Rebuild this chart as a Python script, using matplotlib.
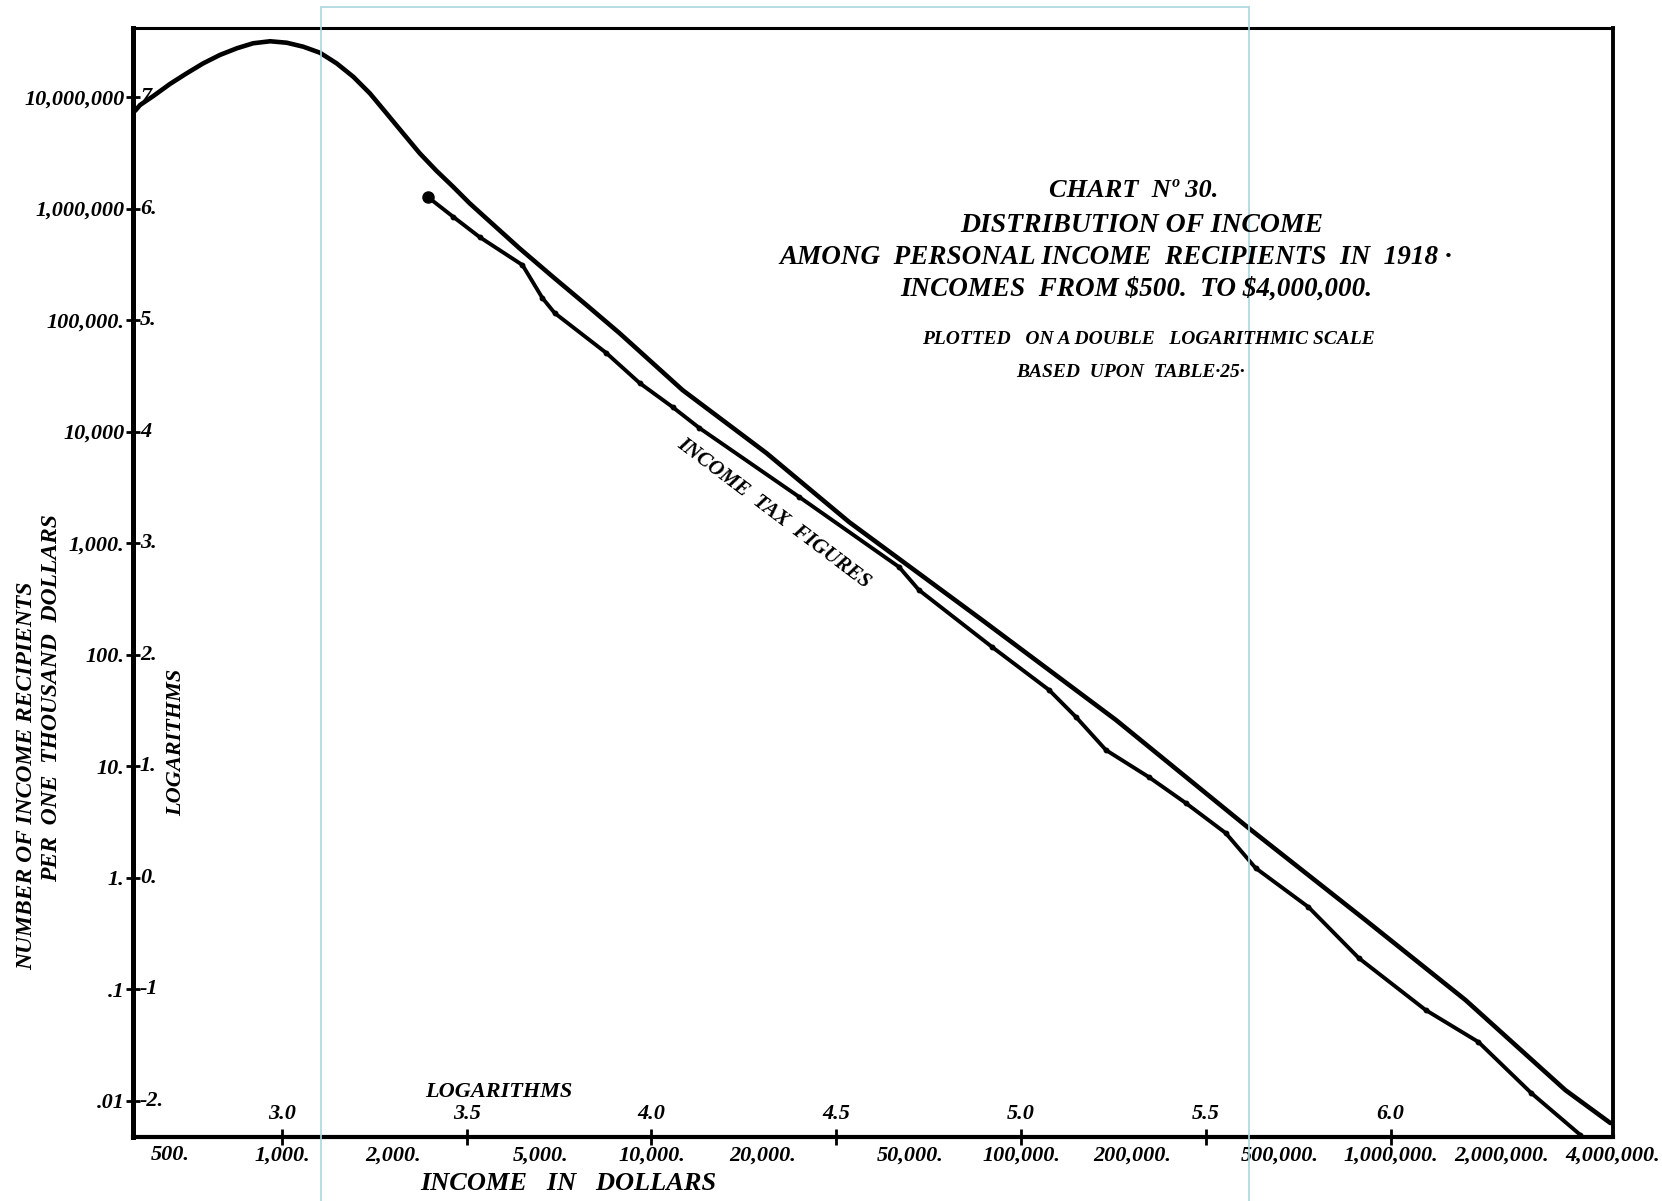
import numpy as np
import matplotlib.pyplot as plt
from matplotlib.patches import Rectangle

plt.rcParams['font.family'] = ['Liberation Serif', 'DejaVu Serif']

# log10 of income in dollars / log10 of recipients per 1000 dollars
all_log_income = [2.603, 2.616, 2.652, 2.697, 2.742, 2.787, 2.832, 2.878, 2.922, 2.968,
                  3.013, 3.058, 3.103, 3.148, 3.193, 3.238, 3.283, 3.328, 3.373, 3.418,
                  3.463, 3.508, 3.553, 3.643, 3.733, 3.824, 3.914, 4.084, 4.311, 4.535,
                  4.895, 5.257, 5.616, 5.932, 6.203, 6.473, 6.595]
all_log_recipients = [6.877, 6.928, 7.009, 7.117, 7.212, 7.302, 7.377, 7.437, 7.482, 7.500,
                      7.487, 7.451, 7.397, 7.302, 7.182, 7.033, 6.854, 6.674, 6.495, 6.339,
                      6.196, 6.047, 5.912, 5.643, 5.388, 5.135, 4.881, 4.372, 3.807, 3.188,
                      2.309, 1.413, 0.444, -0.381, -1.099, -1.906, -2.202]

# income tax figures
tax_log_income = [3.395, 3.463, 3.535, 3.651, 3.705, 3.738, 3.878, 3.968, 4.057, 4.130,
                  4.400, 4.670, 4.724, 4.922, 5.076, 5.149, 5.230, 5.346, 5.446, 5.554,
                  5.635, 5.778, 5.914, 6.095, 6.238, 6.381, 6.514]
tax_log_recipients = [6.103, 5.927, 5.744, 5.493, 5.197, 5.063, 4.704, 4.435, 4.220, 4.031,
                      3.413, 2.785, 2.578, 2.067, 1.682, 1.439, 1.143, 0.901, 0.668, 0.399,
                      0.085, -0.265, -0.722, -1.188, -1.475, -1.933, -2.309]

y_log_ticks = [7, 6, 5, 4, 3, 2, 1, 0, -1, -2]
y_number_labels = ['10,000,000', '1,000,000', '100,000.', '10,000', '1,000.',
                   '100.', '10.', '1.', '.1', '.01']
y_log_labels = ['7', '6.', '5.', '4', '3.', '2.', '1.', '0.', '-1', '-2.']

x_log_ticks = [3.0, 3.5, 4.0, 4.5, 5.0, 5.5, 6.0]
x_log_labels = ['3.0', '3.5', '4.0', '4.5', '5.0', '5.5', '6.0']
x_dollars = [500, 1000, 2000, 5000, 10000, 20000, 50000, 100000, 200000,
             500000, 1000000, 2000000, 4000000]
x_dollar_labels = ['500.', '1,000.', '2,000.', '5,000.', '10,000.', '20,000.', '50,000.',
                   '100,000.', '200,000.', '500,000.', '1,000,000.', '2,000,000.', '4,000,000.']

W, H = 1662, 1201
fig = plt.figure(figsize=(W / 100, H / 100), dpi=100)
ax = fig.add_axes([133 / W, 1 - 1137 / H, (1613 - 133) / W, (1137 - 28) / H])

ax.plot(all_log_income, all_log_recipients, color='black', lw=3.3,
        solid_capstyle='round', solid_joinstyle='round')
ax.plot(tax_log_income, tax_log_recipients, color='black', lw=2.8,
        marker='o', markersize=3.2, solid_joinstyle='round')
ax.plot(tax_log_income[:1], tax_log_recipients[:1], 'o', color='black', markersize=8)

ax.set_xlim(2.597, 6.597)
ax.set_ylim(-2.327, 7.619)

for side, lw in [('left', 3.6), ('bottom', 3.0), ('top', 2.2), ('right', 2.8)]:
    ax.spines[side].set_linewidth(lw)

tick_font = dict(family='Liberation Serif', style='italic', weight='bold', size=16)

ax.set_yticks(y_log_ticks, labels=y_number_labels)
ax.tick_params(axis='y', direction='inout', length=10, width=2, pad=1)
for lab in ax.get_yticklabels():
    lab.set_fontproperties(tick_font)
for v, lab in zip(y_log_ticks, y_log_labels):
    ax.annotate(lab, xy=(0, v), xycoords=('axes fraction', 'data'),
                xytext=(5, 0), textcoords='offset points', va='center', ha='left',
                **tick_font)

ax.xaxis.remove_overlapping_locs = False
ax.set_xticks(x_log_ticks, labels=x_log_labels)
ax.set_xticks(np.log10(x_dollars), labels=x_dollar_labels, minor=True)
ax.tick_params(axis='x', which='major', direction='inout', length=12, width=2, pad=-30)
ax.tick_params(axis='x', which='minor', length=0, pad=6)
for lab in ax.get_xticklabels() + ax.get_xticklabels(minor=True):
    lab.set_fontproperties(tick_font)

ax.text(4.33, 3.27, 'INCOME  TAX  FIGURES', rotation=-37, rotation_mode='anchor',
        ha='center', va='center', family='Liberation Serif', style='italic',
        weight='bold', size=15)

def ftext(x, y, s, **kw):
    fig.text(x / W, 1 - y / H, s, ha='center', va='center',
             family='Liberation Serif', style='italic', **kw)

ftext(1134, 191, 'CHART  N\u00ba 30.', size=19, weight='bold')
ftext(1142, 225, 'DISTRIBUTION OF INCOME', size=20, weight='bold')
ftext(1116, 258, 'AMONG  PERSONAL INCOME  RECIPIENTS  IN  1918 \u00b7', size=19.5, weight='bold')
ftext(1136, 289, 'INCOMES  FROM \\$500.  TO \\$4,000,000.', size=19.5, weight='bold')
ftext(1148, 339, 'PLOTTED   ON A DOUBLE   LOGARITHMIC SCALE', size=14, weight='bold')
ftext(1131, 373, 'BASED  UPON  TABLE\u00b725\u00b7', size=14, weight='bold')

ftext(27, 776, 'NUMBER OF INCOME RECIPIENTS', size=17, weight='bold', rotation=90)
ftext(52, 698, 'PER  ONE  THOUSAND  DOLLARS', size=17, weight='bold', rotation=90)
ftext(176, 742, 'LOGARITHMS', size=16, weight='bold', rotation=90)
ftext(499, 1092, 'LOGARITHMS', size=16, weight='bold')
ftext(568, 1184, 'INCOME   IN   DOLLARS', size=19, weight='bold')

# pale frame left by the scan
fig.add_artist(Rectangle((321 / W, -0.05), (1249 - 321) / W, 1 - 7 / H + 0.05,
                         transform=fig.transFigure, fill=False,
                         edgecolor='#a9d6df', lw=1.2))

fig.savefig('out.png', dpi=100)
